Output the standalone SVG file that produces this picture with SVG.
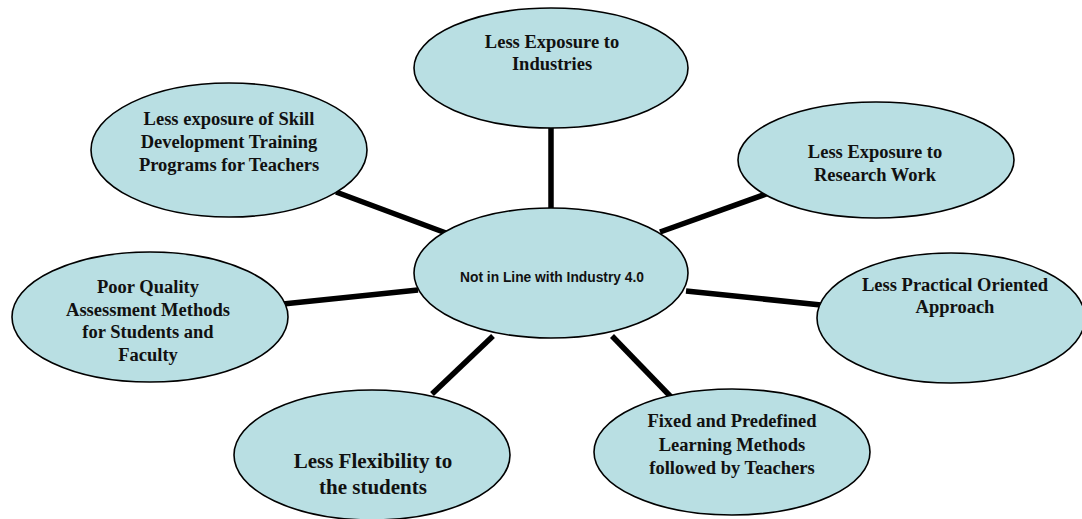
<svg xmlns="http://www.w3.org/2000/svg" width="1082" height="519" viewBox="0 0 1082 519">
<style>
.node ellipse{fill:#b9dfe3;stroke:#000;stroke-width:1.6}
.conn line{stroke:#000;stroke-width:5.5;stroke-linecap:butt}
.t{font-family:"Liberation Serif","Times New Roman",serif;font-weight:bold;font-size:18.5px;fill:#111;text-anchor:middle}
.big{font-size:21px}
.c{font-family:"Liberation Sans",Arial,sans-serif;font-weight:bold;font-size:13.8px;fill:#111;text-anchor:middle}
</style>
<rect width="1082" height="519" fill="#fff"/>
<g id="connectors" class="conn">
<line x1="551" y1="126" x2="551" y2="210"/>
<line x1="336" y1="192" x2="446" y2="233"/>
<line x1="660" y1="232" x2="769" y2="193"/>
<line x1="283" y1="304" x2="418" y2="290"/>
<line x1="686" y1="291" x2="821" y2="305"/>
<line x1="493" y1="336" x2="432" y2="394"/>
<line x1="612" y1="336" x2="672" y2="398"/>
</g>
<g id="n-center" class="node">
<ellipse cx="551" cy="273" rx="137" ry="65"/>
<text class="c" x="552" y="282">Not in Line with Industry 4.0</text>
</g>
<g id="n-industries" class="node">
<ellipse cx="551" cy="68" rx="137" ry="60"/>
<text class="t" x="552" y="48">Less Exposure to</text>
<text class="t" x="552" y="70">Industries</text>
</g>
<g id="n-skill" class="node">
<ellipse cx="229" cy="150" rx="138" ry="67"/>
<text class="t" x="229" y="125">Less exposure of Skill</text>
<text class="t" x="229" y="148">Development Training</text>
<text class="t" x="229" y="171">Programs for Teachers</text>
</g>
<g id="n-research" class="node">
<ellipse cx="876" cy="160" rx="138" ry="58"/>
<text class="t" x="875" y="158">Less Exposure to</text>
<text class="t" x="875" y="181">Research Work</text>
</g>
<g id="n-assessment" class="node">
<ellipse cx="150" cy="317" rx="138" ry="65"/>
<text class="t" x="148" y="293">Poor Quality</text>
<text class="t" x="148" y="315.5">Assessment Methods</text>
<text class="t" x="148" y="338">for Students and</text>
<text class="t" x="148" y="360.5">Faculty</text>
</g>
<g id="n-practical" class="node">
<ellipse cx="951" cy="318" rx="134" ry="65"/>
<text class="t" x="955" y="291">Less Practical Oriented</text>
<text class="t" x="955" y="313">Approach</text>
</g>
<g id="n-flexibility" class="node">
<ellipse cx="372" cy="455" rx="138" ry="65"/>
<text class="t big" x="373" y="468">Less Flexibility to</text>
<text class="t big" x="373" y="494">the students</text>
</g>
<g id="n-fixed" class="node">
<ellipse cx="732" cy="452" rx="138" ry="63"/>
<text class="t" x="732" y="427">Fixed and Predefined</text>
<text class="t" x="732" y="450.5">Learning Methods</text>
<text class="t" x="732" y="474">followed by Teachers</text>
</g>
</svg>
